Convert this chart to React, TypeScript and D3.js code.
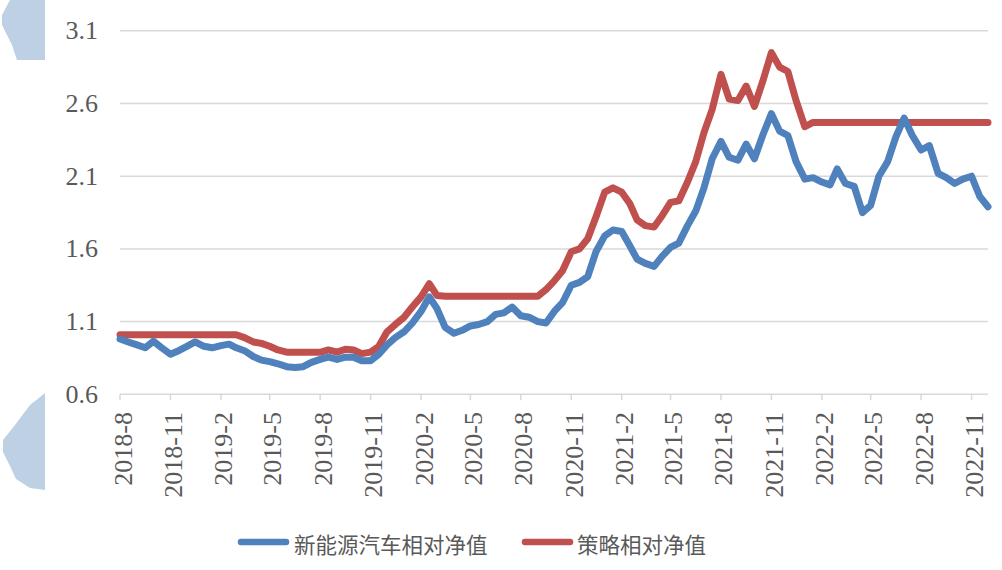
import React from "react";
import * as d3 from "d3";

const tickLabels = [
  "2018-8", "2018-11", "2019-2", "2019-5", "2019-8", "2019-11", "2020-2", "2020-5", "2020-8",
  "2020-11", "2021-2", "2021-5", "2021-8", "2021-11", "2022-2", "2022-5", "2022-8", "2022-11",
];
const yTicks = [0.6, 1.1, 1.6, 2.1, 2.6, 3.1];

// semi-monthly observation dates (1st and 16th), 2018-08-01 .. 2022-12-01
const dates: Date[] = (() => {
  const out: Date[] = [];
  const months = d3.timeMonth.range(new Date(2018, 7, 1), new Date(2022, 11, 2));
  months.forEach((m, i) => {
    out.push(m);
    if (i < months.length - 1) out.push(new Date(m.getFullYear(), m.getMonth(), 16));
  });
  return out;
})();

const nevValues = [
  0.98, 0.96, 0.94, 0.92, 0.965, 0.92, 0.875, 0.9, 0.93, 0.96,
  0.93, 0.92, 0.935, 0.945, 0.92, 0.9, 0.86, 0.835, 0.825, 0.81,
  0.79, 0.785, 0.79, 0.82, 0.84, 0.855, 0.84, 0.855, 0.855, 0.83,
  0.83, 0.875, 0.94, 0.99, 1.03, 1.09, 1.17, 1.27, 1.19, 1.06,
  1.02, 1.04, 1.07, 1.08, 1.1, 1.15, 1.16, 1.2, 1.14, 1.13,
  1.1, 1.09, 1.17, 1.23, 1.35, 1.37, 1.41, 1.58, 1.69, 1.73,
  1.72, 1.62, 1.53, 1.5, 1.48, 1.55, 1.61, 1.64, 1.76, 1.86,
  2.02, 2.22, 2.34, 2.23, 2.21, 2.32, 2.22, 2.38, 2.53, 2.41,
  2.38, 2.2, 2.08, 2.09, 2.06, 2.04, 2.15, 2.05, 2.03, 1.85,
  1.9, 2.1, 2.2, 2.37, 2.5, 2.38, 2.28, 2.31, 2.12, 2.09,
  2.05, 2.08, 2.1, 1.96, 1.89,
];

const strategyValues = [
  1.01, 1.01, 1.01, 1.01, 1.01, 1.01, 1.01, 1.01, 1.01, 1.01,
  1.01, 1.01, 1.01, 1.01, 1.01, 0.99, 0.96, 0.95, 0.93, 0.905,
  0.89, 0.889, 0.889, 0.889, 0.889, 0.905, 0.89, 0.91, 0.905, 0.88,
  0.89, 0.93, 1.03, 1.08, 1.13, 1.2, 1.27, 1.36, 1.28, 1.275,
  1.275, 1.275, 1.275, 1.275, 1.275, 1.275, 1.275, 1.275, 1.275, 1.275,
  1.275, 1.32, 1.38, 1.45, 1.58, 1.6, 1.67, 1.82, 1.99, 2.02,
  1.99, 1.91, 1.8, 1.76, 1.75, 1.83, 1.92, 1.93, 2.06, 2.2,
  2.4, 2.56, 2.8, 2.63, 2.62, 2.72, 2.58, 2.75, 2.95, 2.85,
  2.82, 2.62, 2.44, 2.47, 2.47, 2.47, 2.47, 2.47, 2.47, 2.47,
  2.47, 2.47, 2.47, 2.47, 2.47, 2.47, 2.47, 2.47, 2.47, 2.47,
  2.47, 2.47, 2.47, 2.47, 2.47,
];

const seriesNames = ["新能源汽车相对净值", "策略相对净值"];

const BLUE = "#4f81bd";
const RED = "#c0504d";
const GRID = "#d9d9d9";
const TEXT = "#595959";

export default function App() {
  const x = d3.scaleTime().domain([new Date(2018, 7, 1), new Date(2022, 11, 1)]).range([120, 988]);
  const y = d3.scaleLinear().domain([0.6, 3.1]).range([394.3, 30.8]);
  const parse = (s: string) => {
    const [yy, mm] = s.split("-").map(Number);
    return new Date(yy, mm - 1, 1);
  };
  const line = d3
    .line<number>()
    .x((_, i) => x(dates[i]))
    .y((d) => y(d));

  return (
    <svg
      width={1002}
      height={570}
      style={{ position: "absolute", left: 0, top: 0, background: "#fff" }}
    >
      {/* decorative artifacts at left edge */}
      <path d="M10,0 L45,0 L45,60 L17,60 L12,45 L2,25 L2,15 Z" fill="#bed0e3" />
      <path d="M45,393 L30,405 L15,425 L3,440 L3,452 L10,466 L16,479 L30,488 L45,490 Z" fill="#bed0e3" />

      {/* gridlines */}
      {yTicks.map((t) => (
        <line key={t} x1={120} x2={988} y1={y(t)} y2={y(t)} stroke={GRID} strokeWidth={1.5} />
      ))}
      {/* x tick marks */}
      {tickLabels.map((l) => (
        <line key={l} x1={x(parse(l))} x2={x(parse(l))} y1={y(0.6)} y2={y(0.6) + 6} stroke={GRID} strokeWidth={1.5} />
      ))}
      {/* y labels */}
      {yTicks.map((t) => (
        <text
          key={t}
          x={98}
          y={y(t)}
          textAnchor="end"
          dominantBaseline="central"
          fontFamily="'Liberation Serif', 'Times New Roman', serif"
          fontSize={26}
          fill={TEXT}
        >
          {t.toFixed(1)}
        </text>
      ))}
      {/* x labels */}
      {tickLabels.map((l) => (
        <text
          key={l}
          transform={`translate(${x(parse(l)) + 3},412) rotate(-90)`}
          textAnchor="end"
          dominantBaseline="central"
          fontFamily="'Liberation Serif', 'Times New Roman', serif"
          fontSize={26}
          fill={TEXT}
        >
          {l}
        </text>
      ))}

      {/* series */}
      <path d={line(strategyValues) ?? ""} fill="none" stroke={RED} strokeWidth={7} strokeLinejoin="round" strokeLinecap="round" />
      <path d={line(nevValues) ?? ""} fill="none" stroke={BLUE} strokeWidth={7} strokeLinejoin="round" strokeLinecap="round" />

      {/* legend */}
      <line x1={241} x2={286} y1={542} y2={542} stroke={BLUE} strokeWidth={6.5} strokeLinecap="round" />
      <text x={294} y={543} dominantBaseline="central" fontFamily="'Noto Sans CJK SC', sans-serif" fontSize={21.5} fill={TEXT}>
        {seriesNames[0]}
      </text>
      <line x1={525} x2={570} y1={542} y2={542} stroke={RED} strokeWidth={6.5} strokeLinecap="round" />
      <text x={577} y={543} dominantBaseline="central" fontFamily="'Noto Sans CJK SC', sans-serif" fontSize={21.5} fill={TEXT}>
        {seriesNames[1]}
      </text>
    </svg>
  );
}
